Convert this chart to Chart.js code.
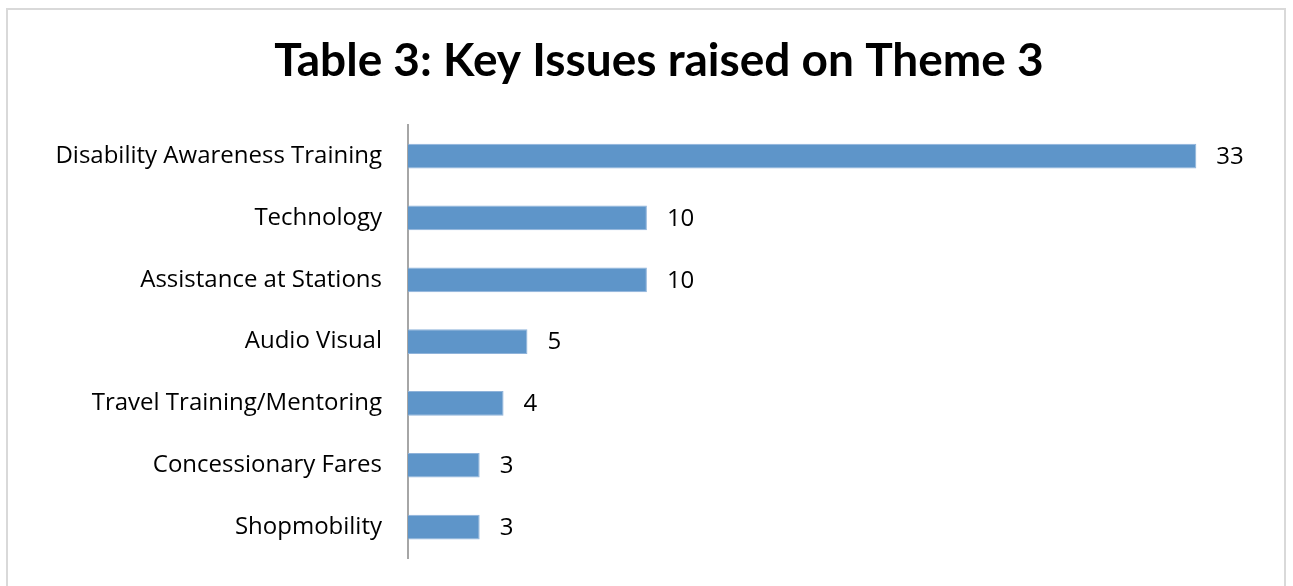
<!DOCTYPE html>
<html>
<head>
<meta charset="utf-8">
<script src="https://cdn.jsdelivr.net/npm/chart.js@4"></script>
<style>
  html, body { margin: 0; padding: 0; background: #ffffff; }
  #wrap { position: relative; width: 1293px; height: 586px; }
</style>
</head>
<body>
<div id="wrap"><canvas id="chart" width="1293" height="586"></canvas></div>
<script>
const categories = [
  'Disability Awareness Training',
  'Technology',
  'Assistance at Stations',
  'Audio Visual',
  'Travel Training/Mentoring',
  'Concessionary Fares',
  'Shopmobility'
];
const issueCounts = [33, 10, 10, 5, 4, 3, 3];
const titleText = 'Table 3: Key Issues raised on Theme 3';

const LABEL_FONT = '"Open Sans", sans-serif';
const TITLE_FONT = 'Lato, "Open Sans", sans-serif';

// Light grey frame around the whole chart
const framePlugin = {
  id: 'frame',
  beforeDraw(chart) {
    const ctx = chart.ctx;
    ctx.save();
    ctx.fillStyle = '#ffffff';
    ctx.fillRect(0, 0, chart.width, chart.height);
    ctx.strokeStyle = '#d9d9d9';
    ctx.lineWidth = 2;
    ctx.strokeRect(7, 9, chart.width - 15, chart.height + 10);
    ctx.restore();
  }
};

// Value printed just past the end of each bar
const valueLabels = {
  id: 'valueLabels',
  afterDatasetsDraw(chart) {
    const ctx = chart.ctx;
    const meta = chart.getDatasetMeta(0);
    const xScale = chart.scales.x;
    ctx.save();
    ctx.font = '24px ' + LABEL_FONT;
    ctx.fillStyle = '#000000';
    ctx.textAlign = 'left';
    ctx.textBaseline = 'middle';
    meta.data.forEach((bar, i) => {
      const v = chart.data.datasets[0].data[i];
      ctx.fillText(String(v), xScale.getPixelForValue(v) + 20, bar.y + 1);
    });
    ctx.restore();
  }
};

new Chart(document.getElementById('chart'), {
  type: 'bar',
  data: {
    labels: categories,
    datasets: [{
      data: issueCounts,
      backgroundColor: '#5e95c9',
      borderColor: '#8fb3da',
      borderWidth: 1,
      categoryPercentage: 1.0,
      barPercentage: 0.4
    }]
  },
  options: {
    indexAxis: 'y',
    responsive: false,
    animation: false,
    layout: { padding: { left: 50, right: 25, top: 0, bottom: 28 } },
    plugins: {
      legend: { display: false },
      tooltip: { enabled: false },
      title: {
        display: true,
        text: titleText,
        color: '#000000',
        font: { family: TITLE_FONT, size: 46, weight: 'bold', lineHeight: 1.2 },
        padding: { top: 34, bottom: 36 }
      }
    },
    scales: {
      x: {
        display: false,
        min: 0,
        max: 36
      },
      y: {
        afterFit(scale) {
          scale.width = 358;
          // the tick gap is horizontal only; keep it out of the vertical extent
          scale.paddingTop = 0;
          scale.paddingBottom = 0;
        },
        grid: { display: false, drawTicks: false },
        border: { display: true, color: '#a6a6a6', width: 2 },
        ticks: {
          color: '#000000',
          padding: 26,
          font: { family: LABEL_FONT, size: 24 }
        }
      }
    }
  },
  plugins: [framePlugin, valueLabels]
});
</script>
</body>
</html>
